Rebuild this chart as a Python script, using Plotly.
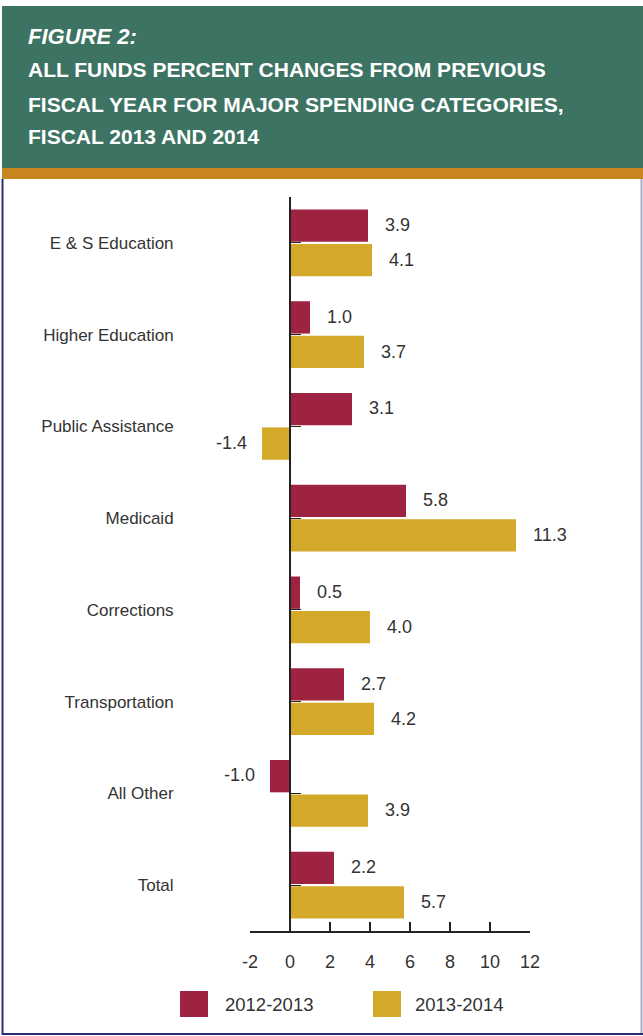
import plotly.graph_objects as go

# Spending categories and year-over-year percent changes (all funds)
categories = ["E & S Education", "Higher Education", "Public Assistance", "Medicaid",
              "Corrections", "Transportation", "All Other", "Total"]
change_2013 = [3.9, 1.0, 3.1, 5.8, 0.5, 2.7, -1.0, 2.2]
change_2014 = [4.1, 3.7, -1.4, 11.3, 4.0, 4.2, 3.9, 5.7]
series_names = ["2012-2013", "2013-2014"]
x_ticks = [-2, 0, 2, 4, 6, 8, 10, 12]
x_tick_text = ["-2", "0", "2", "4", "6", "8", "10", "12"]

RED = "#9E2340"
GOLD = "#D4A929"
GREEN = "#3D7363"
ORANGE = "#C8851F"
NAVY = "#2B2E6E"
TEXT = "#333333"
FONT = "Liberation Sans Narrow, Arial Narrow, Liberation Sans, Arial, sans-serif"

W, H = 643, 1036
ML, MR, MT, MB = 250, 113, 197, 105
PW, PH = W - ML - MR, H - MT - MB


def px(x):
    return (x - ML) / PW


def py(y):
    return (H - MB - y) / PH


fig = go.Figure()
for name, vals, color in zip(series_names, [change_2013, change_2014], [RED, GOLD]):
    fig.add_trace(go.Bar(y=categories, x=vals, name=name, orientation="h",
                         marker=dict(color=color, line=dict(width=0)),
                         showlegend=False))

# value labels beside each bar end
annotations = []
for vals, shift in [(change_2013, 18), (change_2014, -17)]:
    for cat, v in zip(categories, vals):
        annotations.append(dict(
            x=v, y=cat, xref="x", yref="y", text=f"{v:.1f}", showarrow=False,
            xanchor="left" if v >= 0 else "right",
            xshift=15 if v >= 0 else -13, yshift=shift,
            font=dict(family=FONT, size=18, color=TEXT)))

# header block
shapes = [
    dict(type="rect", xref="paper", yref="paper", x0=px(2), x1=px(643), y0=py(168), y1=py(6),
         fillcolor=GREEN, line=dict(width=0), layer="below"),
    dict(type="rect", xref="paper", yref="paper", x0=px(2), x1=px(643), y0=py(179), y1=py(168),
         fillcolor=ORANGE, line=dict(width=0), layer="below"),
    # panel border
    dict(type="line", xref="paper", yref="paper", x0=px(2.5), x1=px(2.5), y0=py(1035), y1=py(179),
         line=dict(color=NAVY, width=2)),
    dict(type="line", xref="paper", yref="paper", x0=px(641.5), x1=px(641.5), y0=py(1035), y1=py(179),
         line=dict(color="#A9A9CC", width=2)),
    dict(type="line", xref="paper", yref="paper", x0=px(2), x1=px(643), y0=py(1034), y1=py(1034),
         line=dict(color=NAVY, width=2)),
]

title_lines = [
    ("<i>FIGURE 2:</i>", 36, 22),
    ("ALL FUNDS PERCENT CHANGES FROM PREVIOUS", 70, 21),
    ("FISCAL YEAR FOR MAJOR SPENDING CATEGORIES,", 104, 21),
    ("FISCAL 2013 AND 2014", 137, 21),
]
for txt, yc, size in title_lines:
    annotations.append(dict(x=px(26), y=py(yc), xref="paper", yref="paper", text=txt,
                            showarrow=False, xanchor="left", yanchor="middle",
                            font=dict(family=FONT, size=size, color="white", weight="bold")))

# legend
for (x0, x1, tx), name, color in zip([(180, 208, 223), (373, 401, 413)], series_names, [RED, GOLD]):
    shapes.append(dict(type="rect", xref="paper", yref="paper", x0=px(x0), x1=px(x1),
                       y0=py(1017), y1=py(991), fillcolor=color, line=dict(width=0)))
    annotations.append(dict(x=px(tx), y=py(1004), xref="paper", yref="paper", text=name,
                            showarrow=False, xanchor="left", yanchor="middle",
                            font=dict(family=FONT, size=18.5, color=TEXT)))

fig.update_layout(
    width=W, height=H,
    margin=dict(l=ML, r=MR, t=MT, b=MB),
    paper_bgcolor="white", plot_bgcolor="white",
    barmode="group", bargap=0.25, bargroupgap=0.06,
    font=dict(family=FONT, color=TEXT),
    shapes=shapes, annotations=annotations,
    xaxis=dict(range=[-2, 12], tickvals=x_ticks, ticktext=x_tick_text,
               showgrid=False, zeroline=False,
               showline=True, linecolor="#222222", linewidth=2,
               ticks="inside", ticklen=9, tickwidth=2, tickcolor="#222222",
               ticklabelstandoff=13, tickfont=dict(size=18, color=TEXT, family=FONT)),
    yaxis=dict(autorange="reversed", anchor="free", position=2 / 14,
               showgrid=False, zeroline=False, showline=True, linecolor="#222222", linewidth=2,
               ticks="inside", ticklen=10, tickwidth=1, tickcolor="#222222",
               ticklabelstandoff=112, tickfont=dict(size=17, color=TEXT, family=FONT)),
)

fig.write_html("out.html")
